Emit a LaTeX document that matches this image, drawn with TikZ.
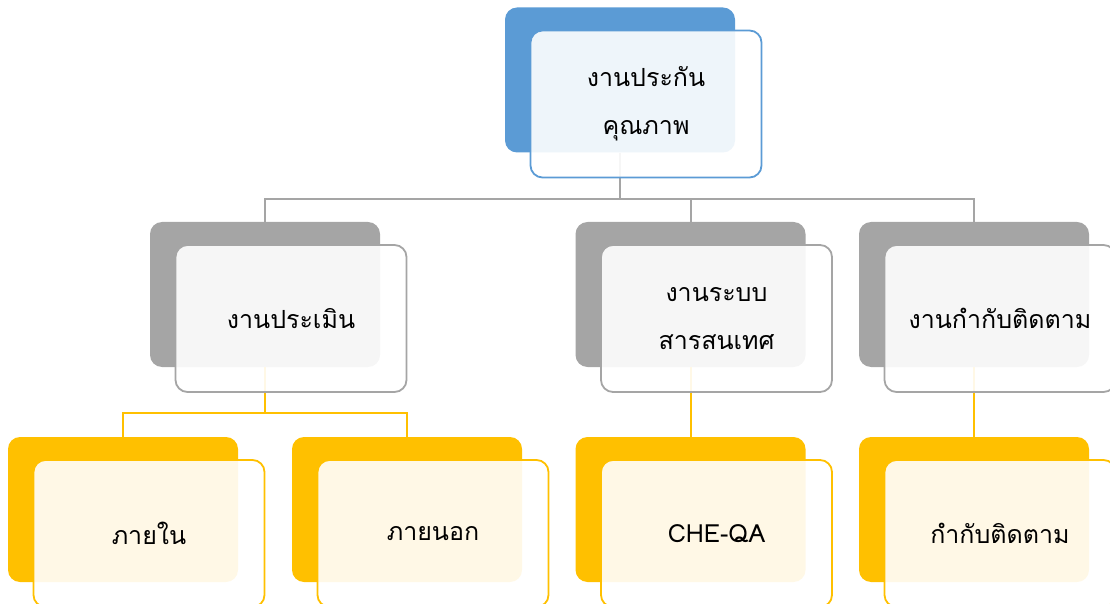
\documentclass[tikz,border=0pt]{standalone}
\usepackage{fontspec}
\newfontfamily\thaifont[Script=Thai]{Loma}
\usetikzlibrary{positioning}

\definecolor{qblue}{HTML}{5B9BD5}
\definecolor{qgray}{HTML}{A5A5A5}
\definecolor{qgold}{HTML}{FFC000}

\begin{document}
\begin{tikzpicture}[
  x=1pt, y=1pt,
  back/.style={rounded corners=12pt, fill=#1, inner sep=0pt,
    minimum width=230pt, minimum height=145pt},
  front/.style={draw=#1, line width=1.8pt, rounded corners=12pt,
    fill=white, fill opacity=0.9, text opacity=1, inner sep=0pt,
    minimum width=231pt, minimum height=147pt, align=center,
    xshift=26pt, yshift=-24pt,
    font=\thaifont\fontsize{25}{48}\selectfont},
  link/.style={draw=#1, line width=2pt}
]
\clip (0,0) rectangle (1110,603);

% back boxes
\node[back=qblue] (qa) at (620,523) {};

\node[back=qgray] (ev) at (265,308.5) {};
\node[back=qgray] (it) at (690.5,308.5) {};
\node[back=qgray] (mo) at (974,308.5) {};

\node[back=qgold] (in) at (123,93.5) {};
\node[back=qgold] (ex) at (407,93.5) {};
\node[back=qgold] (che) at (690.5,93.5) {};
\node[back=qgold] (fu) at (974,93.5) {};

% connectors
\draw[link=qgray] (qa.south) -- ++(0,-46) -| (ev.north);
\draw[link=qgray] (qa.south) -- ++(0,-46) -| (it.north);
\draw[link=qgray] (qa.south) -- ++(0,-46) -| (mo.north);

\draw[link=qgold] (ev.south) -- ++(0,-46) -| (in.north);
\draw[link=qgold] (ev.south) -- ++(0,-46) -| (ex.north);
\draw[link=qgold] (it.south) -- (che.north);
\draw[link=qgold] (mo.south) -- (fu.north);

% front boxes
\node[front=qblue] (qat) at (qa) {งานประกัน\\คุณภาพ};

\node[front=qgray] (evt) at (ev) {งานประเมิน};
\node[front=qgray] (itt) at (it) {งานระบบ\\สารสนเทศ};
\node[front=qgray] (mot) at (mo) {งานกำกับติดตาม};

\node[front=qgold] (int) at (in) {ภายใน};
\node[front=qgold] (ext) at (ex) {ภายนอก};
\node[front=qgold] (chet) at (che) {CHE-QA};
\node[front=qgold] (fut) at (fu) {กำกับติดตาม};
\end{tikzpicture}
\end{document}
